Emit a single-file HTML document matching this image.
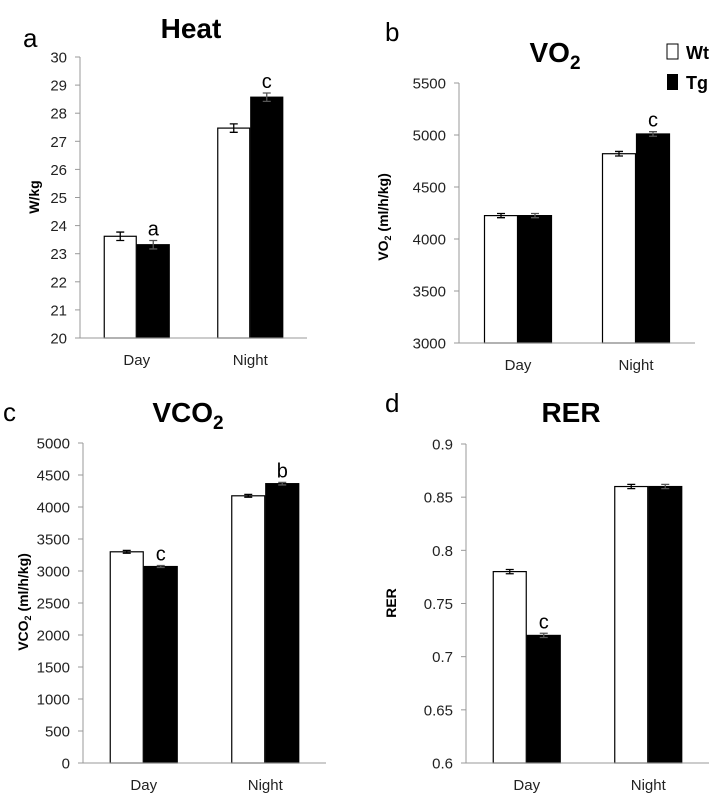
<!DOCTYPE html>
<html><head><meta charset="utf-8"><style>
body{margin:0;background:#fff;width:716px;height:806px;overflow:hidden}
svg text{font-family:"Liberation Sans",sans-serif}
</style></head><body>
<svg id="fig" width="716" height="806" xmlns="http://www.w3.org/2000/svg"></svg>
<script>
const categories = ["Day", "Night"];
const heatWt = [23.62, 27.47], heatTg = [23.32, 28.57], heatErrWt = [0.15, 0.15], heatErrTg = [0.15, 0.15];
const heatTicks = [20,21,22,23,24,25,26,27,28,29,30];
const vo2Wt = [4225, 4820], vo2Tg = [4225, 5010], vo2ErrWt = [20, 22], vo2ErrTg = [20, 22];
const vo2Ticks = [3000,3500,4000,4500,5000,5500];
const vco2Wt = [3300, 4175], vco2Tg = [3070, 4365], vco2ErrWt = [22, 22], vco2ErrTg = [15, 20];
const vco2Ticks = [0,500,1000,1500,2000,2500,3000,3500,4000,4500,5000];
const rerWt = [0.78, 0.86], rerTg = [0.72, 0.86], rerErrWt = [0.002, 0.002], rerErrTg = [0.002, 0.002];
const rerTicks = ["0.6","0.65","0.7","0.75","0.8","0.85","0.9"];
const heatSig = ["a","c"], vo2Sig = ["","c"], vco2Sig = ["c","b"], rerSig = ["c",""];

const svg = document.getElementById('fig');
const NS = "http://www.w3.org/2000/svg";
function mk(tag, attrs, parent){const e=document.createElementNS(NS,tag);for(const k in attrs)e.setAttribute(k,attrs[k]);(parent||svg).appendChild(e);return e;}

function panel(p){
  const g = mk('g',{});
  
  
  const tv = p.ticks.map(Number);
  const vmin = tv[0], vmax = tv[tv.length-1];
  const y = v => p.y0 + (p.y1 - p.y0) * (v - vmin) / (vmax - vmin);
  const groupW = (p.xEnd - p.ax) / categories.length;
  const bw = p.bw;
  const x = (ci, si) => p.ax + groupW*ci + groupW/2 - bw + si*bw;
  p.ticks.forEach((t)=>{
    const yy = y(Number(t));
    const tk = mk('line',{x1:p.ax-5,x2:p.ax,y1:yy,y2:yy,stroke:'#999','stroke-width':1},g);
    
    
    const tl = mk('text',{x:p.ax-13,y:yy+5.5,'text-anchor':'end','font-size':15,fill:'#222'},g);
    tl.textContent = t;
    
    
  });
  const series = [{v:p.wt,e:p.ew,fill:'#fff',n:'wt'},{v:p.tg,e:p.et,fill:'#000',n:'tg'}];
  categories.forEach((c,ci)=>{
    series.forEach((s,si)=>{
      const top = y(s.v[ci]);
      const r = mk('rect',{x:x(ci,si)+0.5,y:top,width:bw-1,height:p.y0-top,fill:s.fill,stroke:'#000','stroke-width':1.2},g);
      
      
      const cx = x(ci,si)+bw/2, e1=y(s.v[ci]+s.e[ci]), e2=y(s.v[ci]-s.e[ci]);
      const col = si===0?'#000':'#555';
      const eb = mk('path',{d:`M${cx},${e1}V${e2}M${cx-4},${e1}H${cx+4}M${cx-4},${e2}H${cx+4}`,stroke:col,'stroke-width':1.3,fill:'none'},g);
      
      
      if(si===1 && p.sig[ci]){
        const st = mk('text',{x:cx,y:e1-5,'text-anchor':'middle','font-size':20,fill:'#000'},g);
        st.textContent = p.sig[ci];
        
        
      }
    });
    const cl = mk('text',{x:p.ax+groupW*ci+groupW/2,y:p.y0+27,'text-anchor':'middle','font-size':15,fill:'#222'},g);
    cl.textContent = c;
    
    
  });
  const ya = mk('line',{x1:p.ax,x2:p.ax,y1:p.y1,y2:p.y0,stroke:'#999','stroke-width':1},g);
  
  
  const xa = mk('line',{x1:p.ax,x2:p.xEnd,y1:p.y0,y2:p.y0,stroke:'#999','stroke-width':1},g);
  
  
  const ti = mk('text',{x:p.tx,y:p.ty,'text-anchor':'middle','font-size':28,'font-weight':'bold',fill:'#000'},g);
  ti.innerHTML = p.title;
  
  
  const pl = mk('text',{x:p.lx,y:p.ly,'font-size':26,fill:'#000'},g);
  pl.textContent = p.letter;
  
  
  const yl = mk('text',{x:0,y:0,'text-anchor':'middle','font-size':14,'font-weight':'bold',fill:'#000',transform:`translate(${p.ylx},${p.yly}) rotate(-90)`},g);
  yl.innerHTML = p.ylabel;
  
  
}

panel({name:'heat',ticks:heatTicks,wt:heatWt,tg:heatTg,ew:heatErrWt,et:heatErrTg,sig:heatSig,ax:80,xEnd:307,y0:338,y1:57,bw:33,
  title:'Heat',tx:191,ty:38,letter:'a',lx:23,ly:47,ylabel:'W/kg',ylx:39,yly:197});
panel({name:'vo2',ticks:vo2Ticks,wt:vo2Wt,tg:vo2Tg,ew:vo2ErrWt,et:vo2ErrTg,sig:vo2Sig,ax:459,xEnd:695,y0:343,y1:83,bw:34,
  title:'VO<tspan font-size="19" dy="7">2</tspan>',tx:555,ty:62,letter:'b',lx:385,ly:41,ylabel:'VO<tspan font-size="9" dy="3">2</tspan><tspan dy="-3"> (ml/h/kg)</tspan>',ylx:388,yly:217});
panel({name:'vco2',ticks:vco2Ticks,wt:vco2Wt,tg:vco2Tg,ew:vco2ErrWt,et:vco2ErrTg,sig:vco2Sig,ax:83,xEnd:326,y0:763,y1:443,bw:34,
  title:'VCO<tspan font-size="19" dy="7">2</tspan>',tx:188,ty:422,letter:'c',lx:3,ly:421,ylabel:'VCO<tspan font-size="9" dy="3">2</tspan><tspan dy="-3"> (ml/h/kg)</tspan>',ylx:28,yly:602});
panel({name:'rer',ticks:rerTicks,wt:rerWt,tg:rerTg,ew:rerErrWt,et:rerErrTg,sig:rerSig,ax:466,xEnd:709,y0:763,y1:444,bw:34,
  title:'RER',tx:571,ty:422,letter:'d',lx:385,ly:412,ylabel:'RER',ylx:396,yly:603});

const lg = mk('g',{});


const r1 = mk('rect',{x:667,y:44,width:11,height:15,fill:'#fff',stroke:'#000','stroke-width':1},lg);


const t1 = mk('text',{x:686,y:59,'font-size':18,'font-weight':'bold',fill:'#000'},lg);
t1.textContent='Wt';


const r2 = mk('rect',{x:667,y:74,width:11,height:16,fill:'#000'},lg);


const t2 = mk('text',{x:686,y:89,'font-size':18,'font-weight':'bold',fill:'#000'},lg);
t2.textContent='Tg';


</script>
</body></html>
